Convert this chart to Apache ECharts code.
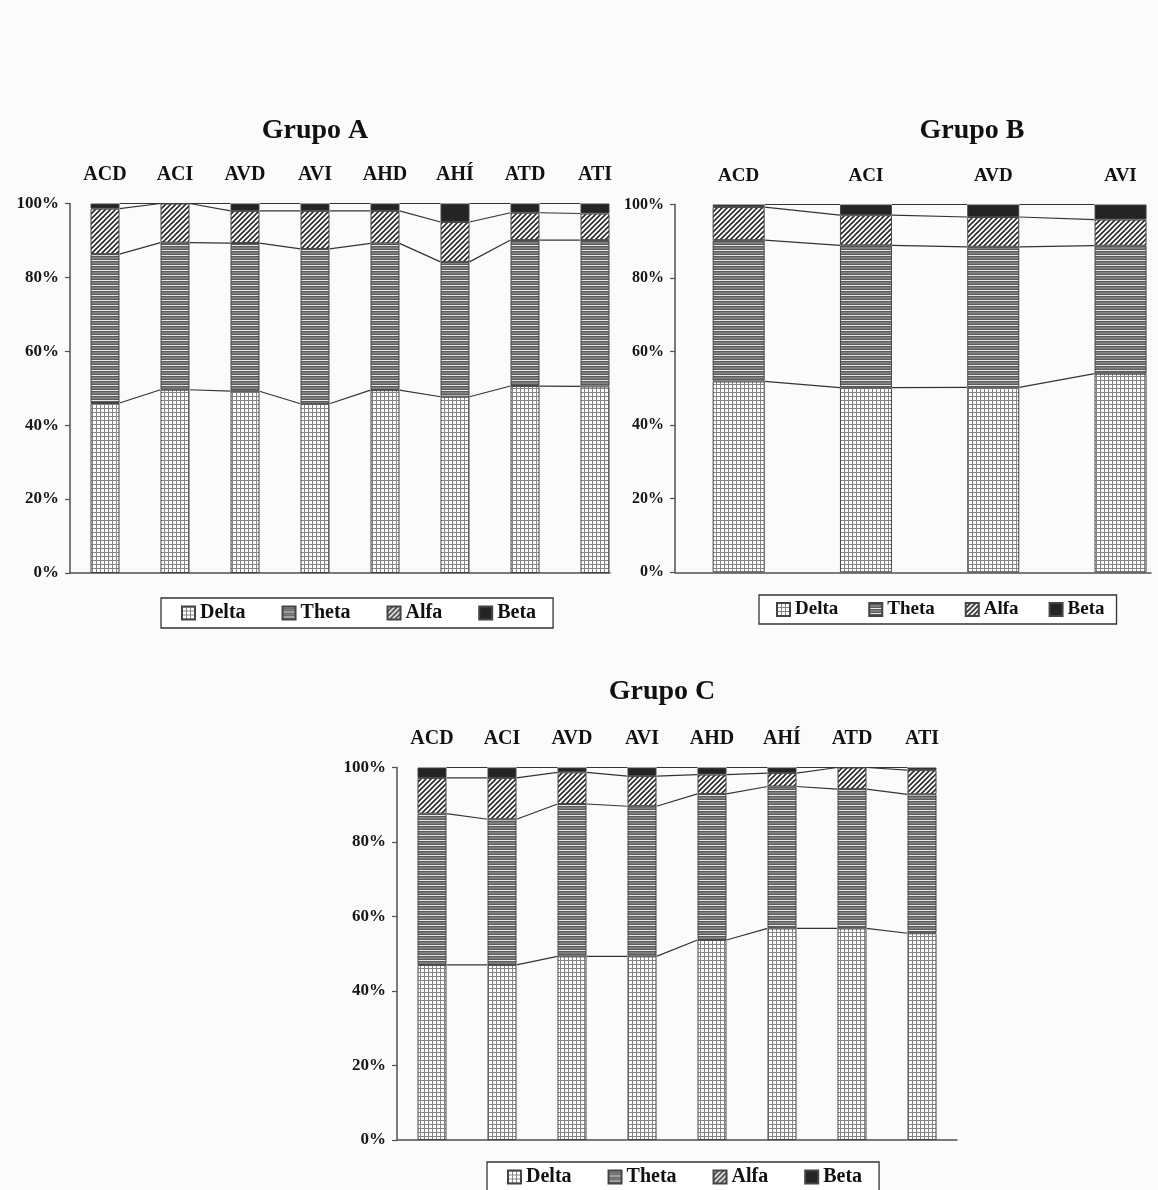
<!DOCTYPE html>
<html>
<head>
<meta charset="utf-8">
<script src="https://cdn.jsdelivr.net/npm/echarts@6/dist/echarts.min.js"></script>
<style>
  html, body { margin: 0; padding: 0; background: #fafafa; }
  #chart { width: 1158px; height: 1190px; }
</style>
</head>
<body>
<div id="chart"></div>
<script>
// Distribución porcentual de las bandas del EEG por derivación (Grupos A, B y C)
const bandNames = ['Delta', 'Theta', 'Alfa', 'Beta'];
const yTicks = [0, 20, 40, 60, 80, 100];

// Grupo A
const catsA = ['ACD', 'ACI', 'AVD', 'AVI', 'AHD', 'AHÍ', 'ATD', 'ATI'];
const deltaA = [46.0, 49.6, 49.2, 45.8, 49.5, 47.7, 50.6, 50.5];
const thetaA = [40.3, 39.8, 40.1, 41.9, 39.7, 36.5, 39.5, 39.6];
const alfaA  = [12.3, 10.6, 8.7, 10.3, 8.8, 10.8, 7.4, 7.2];
const betaA  = [1.4, 0.0, 2.0, 2.0, 2.0, 5.0, 2.5, 2.7];

// Grupo B
const catsB = ['ACD', 'ACI', 'AVD', 'AVI'];
const deltaB = [51.9, 50.2, 50.3, 54.0];
const thetaB = [38.4, 38.7, 38.2, 34.8];
const alfaB  = [9.0, 8.2, 8.1, 7.1];
const betaB  = [0.7, 2.9, 3.4, 4.1];

// Grupo C
const catsC = ['ACD', 'ACI', 'AVD', 'AVI', 'AHD', 'AHÍ', 'ATD', 'ATI'];
const deltaC = [47.0, 47.0, 49.3, 49.3, 53.7, 56.8, 56.8, 55.5];
const thetaC = [40.6, 39.1, 40.9, 40.3, 39.2, 38.1, 37.4, 37.3];
const alfaC  = [9.6, 11.1, 8.5, 8.1, 5.2, 3.6, 5.8, 6.5];
const betaC  = [2.8, 2.8, 1.3, 2.3, 1.9, 1.5, 0.0, 0.7];

const SERIF = '"Liberation Serif", "Times New Roman", Times, serif';

// ---- fill patterns (grid, horizontal stripes, diagonal hatch, solid) ----
function tile(w, h, draw) {
  const c = document.createElement('canvas');
  c.width = w; c.height = h;
  draw(c.getContext('2d'), w, h);
  return { image: c, repeat: 'repeat' };
}
const gridFill = tile(4, 4, (g, w, h) => {
  g.fillStyle = '#ffffff'; g.fillRect(0, 0, w, h);
  g.fillStyle = '#858585'; g.fillRect(0, 0, w, 1); g.fillRect(0, 0, 1, h);
});
const stripeFill = tile(4, 5, (g, w, h) => {
  g.fillStyle = '#7e7e7e'; g.fillRect(0, 0, w, h);
  g.fillStyle = '#e8e8e8'; g.fillRect(0, 0, w, 1);
  g.fillStyle = '#5a5a5a'; g.fillRect(0, 1, w, 1); g.fillRect(0, 4, w, 1);
});
const hatchFill = tile(5, 5, (g, w, h) => {
  g.fillStyle = '#ffffff'; g.fillRect(0, 0, w, h);
  g.strokeStyle = '#2a2a2a'; g.lineWidth = 1.6;
  g.beginPath();
  g.moveTo(-1, h + 1); g.lineTo(w + 1, -1);
  g.moveTo(-1, 1); g.lineTo(1, -1);
  g.moveTo(w - 1, h + 1); g.lineTo(w + 1, h - 1);
  g.stroke();
});
const solidFill = '#242424';
const fills = [gridFill, stripeFill, hatchFill, solidFill];

// ---- per-group layout ----
const groups = [
  { title: 'Grupo A', cats: catsA, vals: [deltaA, thetaA, alfaA, betaA],
    grid: { left: 70, top: 203.5, width: 540, height: 369.5 }, band: 70, barWidth: 29,
    titlePos: { left: 315, top: 117 }, catFont: 20, yFont: 17,
    legend: { left: 161, top: 598, padding: [5, 17, 5, 20], itemGap: 36, fontSize: 20 } },
  { title: 'Grupo B', cats: catsB, vals: [deltaB, thetaB, alfaB, betaB],
    grid: { left: 675, top: 204.5, width: 476, height: 367.8 }, band: 127.3, barWidth: 52,
    titlePos: { left: 972, top: 117 }, catFont: 19, yFont: 16,
    legend: { left: 759, top: 595, padding: [5, 12, 5, 17], itemGap: 30, fontSize: 19 } },
  { title: 'Grupo C', cats: catsC, vals: [deltaC, thetaC, alfaC, betaC],
    grid: { left: 397, top: 767.5, width: 560, height: 372.5 }, band: 70, barWidth: 29,
    titlePos: { left: 662, top: 678 }, catFont: 20, yFont: 17,
    legend: { left: 487, top: 1162, padding: [5, 17, 5, 20], itemGap: 36, fontSize: 20 } }
];

const option = {
  backgroundColor: '#fbfbfb',
  animation: false,
  title: [], grid: [], xAxis: [], yAxis: [], legend: [], series: []
};

groups.forEach((gp, gi) => {
  const n = gp.cats.length;
  const xMax = gp.grid.width / gp.band;
  const centers = gp.cats.map((_, i) => i + 0.5);

  option.title.push({
    text: gp.title, left: gp.titlePos.left, top: gp.titlePos.top, textAlign: 'center', padding: 0,
    textStyle: { fontFamily: SERIF, fontSize: 28, fontWeight: 'bold', color: '#111' }
  });
  option.grid.push(Object.assign({ containLabel: false }, gp.grid));

  // bottom axis line
  option.xAxis.push({
    type: 'value', gridIndex: gi, position: 'bottom', min: 0, max: xMax,
    axisLine: { show: true, onZero: false, lineStyle: { color: '#505050', width: 1.5 } },
    axisTick: { show: false }, axisLabel: { show: false }, splitLine: { show: false }
  });
  // category names above the plot
  option.xAxis.push({
    type: 'value', gridIndex: gi, position: 'top', min: 0, max: xMax,
    axisLine: { show: false }, axisTick: { show: false }, splitLine: { show: false },
    axisLabel: {
      show: true, customValues: centers, margin: 19,
      formatter: v => gp.cats[Math.round(v - 0.5)],
      fontFamily: SERIF, fontSize: gp.catFont, fontWeight: 'bold', color: '#111'
    }
  });
  option.yAxis.push({
    type: 'value', gridIndex: gi, min: yTicks[0], max: yTicks[yTicks.length - 1], interval: 20,
    axisLine: { show: true, lineStyle: { color: '#505050', width: 1.5 } },
    axisTick: { show: true, length: 5, lineStyle: { color: '#505050', width: 1.2 } },
    splitLine: { show: false },
    axisLabel: { formatter: '{value}%', margin: 11, fontFamily: SERIF, fontSize: gp.yFont, fontWeight: 'bold', color: '#161616' }
  });

  option.legend.push({
    data: bandNames, orient: 'horizontal', left: gp.legend.left, top: gp.legend.top,
    padding: gp.legend.padding, itemGap: gp.legend.itemGap, itemWidth: 13, itemHeight: 13,
    icon: 'rect', backgroundColor: '#ffffff', borderColor: '#333', borderWidth: 1.3,
    selectedMode: false,
    textStyle: { fontFamily: SERIF, fontSize: gp.legend.fontSize, fontWeight: 'bold', color: '#111' }
  });

  // value first, position second, so the stack accumulates along y
  bandNames.forEach((name, k) => {
    option.series.push({
      type: 'bar', name: name, stack: 'g' + gi,
      xAxisIndex: gi * 2, yAxisIndex: gi, barWidth: gp.barWidth,
      encode: { x: 1, y: 0 },
      itemStyle: { color: fills[k], borderColor: '#444', borderWidth: 1 },
      data: gp.vals[k].map((v, i) => [v, centers[i]])
    });
  });

  // series lines joining the segment boundaries of neighbouring bars
  const cum = gp.cats.map((_, i) => {
    let s = 0;
    return gp.vals.map(arr => (s += arr[i]));
  });
  const linkData = [];
  for (let i = 0; i < n - 1; i++) {
    linkData.push([centers[i]].concat(cum[i], [centers[i + 1]], cum[i + 1]));
  }
  const half = gp.barWidth / 2;
  option.series.push({
    type: 'custom', name: 'enlaces' + gi, xAxisIndex: gi * 2, yAxisIndex: gi, z: 3,
    silent: true,
    encode: { x: [0, 5], y: [1, 2, 3, 4, 6, 7, 8, 9] },
    data: linkData,
    renderItem: (params, api) => {
      const children = [];
      for (let k = 1; k <= 4; k++) {
        const p0 = api.coord([api.value(0), api.value(k)]);
        const p1 = api.coord([api.value(5), api.value(k + 5)]);
        children.push({
          type: 'line',
          shape: { x1: p0[0] + half, y1: p0[1], x2: p1[0] - half, y2: p1[1] },
          style: { stroke: '#333', lineWidth: 1.2 }
        });
      }
      return { type: 'group', children };
    }
  });
});

const chart = echarts.init(document.getElementById('chart'), null, { renderer: 'canvas' });
chart.setOption(option);
</script>
</body>
</html>
